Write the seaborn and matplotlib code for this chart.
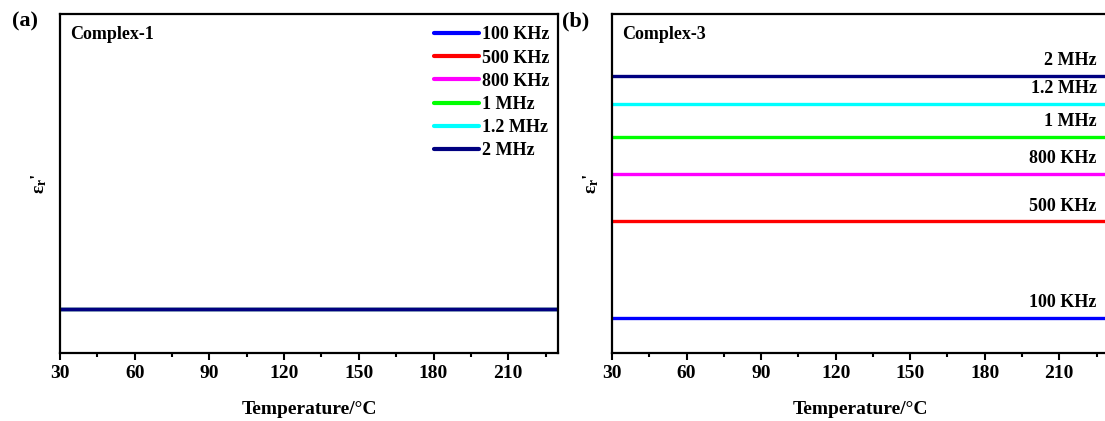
import matplotlib
matplotlib.use("Agg")
import matplotlib.pyplot as plt
from matplotlib.ticker import MultipleLocator
import seaborn as sns
import pandas as pd

# ---- data ----
temperature = [30, 60, 90, 120, 150, 180, 210, 230]
freq_labels = ["100 KHz", "500 KHz", "800 KHz", "1 MHz", "1.2 MHz", "2 MHz"]
colors = ["#0000FF", "#FF0000", "#FF00FF", "#00FF00", "#00FFFF", "#000080"]

# Complex-1 (all curves overlap)
c1_100k = [1.29] * 8
c1_500k = [1.29] * 8
c1_800k = [1.29] * 8
c1_1m = [1.29] * 8
c1_12m = [1.29] * 8
c1_2m = [1.29] * 8

# Complex-3
c3_100k = [1.04] * 8
c3_500k = [3.88] * 8
c3_800k = [5.27] * 8
c3_1m = [6.36] * 8
c3_12m = [7.34] * 8
c3_2m = [8.17] * 8

x_ticks = [30, 60, 90, 120, 150, 180, 210]


def build(series):
    rows = []
    for lab, vals in zip(freq_labels, series):
        for t, v in zip(temperature, vals):
            rows.append({"Temperature": t, "eps": v, "freq": lab})
    return pd.DataFrame(rows)


df1 = build([c1_100k, c1_500k, c1_800k, c1_1m, c1_12m, c1_2m])
df3 = build([c3_100k, c3_500k, c3_800k, c3_1m, c3_12m, c3_2m])

sns.set_theme(style="white")
plt.rcParams["font.family"] = ["Liberation Serif", "DejaVu Serif"]
plt.rcParams["font.weight"] = "bold"
plt.rcParams["text.color"] = "black"
plt.rcParams["axes.labelcolor"] = "black"
plt.rcParams["xtick.color"] = "black"
plt.rcParams["ytick.color"] = "black"
plt.rcParams["mathtext.fontset"] = "custom"
plt.rcParams["mathtext.rm"] = "Liberation Serif:bold"
plt.rcParams["mathtext.it"] = "Liberation Serif:bold"
plt.rcParams["mathtext.bf"] = "Liberation Serif:bold"

fig = plt.figure(figsize=(11.05, 4.21), dpi=100)
W, H = 1105, 421
ax1 = fig.add_axes([60 / W, (H - 353) / H, 498 / W, 339 / H])
ax2 = fig.add_axes([612 / W, (H - 353) / H, 497 / W, 339 / H])

palette = dict(zip(freq_labels, colors))

for ax, df in [(ax1, df1), (ax2, df3)]:
    sns.lineplot(data=df, x="Temperature", y="eps", hue="freq", hue_order=freq_labels,
                 palette=palette, linewidth=2.4, ax=ax, legend=(ax is ax1))
    ax.set_xlim(30, 230)
    ax.set_ylim(0, 10)
    ax.set_yticks([])
    ax.set_xticks(x_ticks)
    ax.xaxis.set_minor_locator(MultipleLocator(15))
    ax.tick_params(axis="x", which="major", direction="out", length=5, width=1.5,
                   labelsize=14, pad=4, bottom=True)
    ax.tick_params(axis="x", which="minor", direction="out", length=3, width=1.5, bottom=True)
    for lab in ax.get_xticklabels():
        lab.set_fontweight("bold")
    for s in ax.spines.values():
        s.set_linewidth(1.6)
        s.set_color("black")
    ax.set_xlabel("Temperature/\u00b0C", fontsize=14, fontweight="bold", labelpad=13)
    ax.set_ylabel(r"$\mathbf{\varepsilon_r}$'", fontsize=14, fontweight="bold", labelpad=8)

ax2.spines["right"].set_visible(False)

ax1.text(0.02, 0.965, "Complex-1", transform=ax1.transAxes, ha="left", va="top",
         fontsize=13, fontweight="bold")
ax2.text(0.02, 0.965, "Complex-3", transform=ax2.transAxes, ha="left", va="top",
         fontsize=13, fontweight="bold")

leg = ax1.legend(loc="upper right", bbox_to_anchor=(1.0, 0.99), frameon=False, fontsize=13,
                 handlelength=2.5, handletextpad=0.12, labelspacing=0.34, borderaxespad=0.1)
for t in leg.get_texts():
    t.set_fontweight("bold")
for l in leg.get_lines():
    l.set_linewidth(3)

# direct labels for Complex-3
for lab, vals in zip(freq_labels, [c3_100k, c3_500k, c3_800k, c3_1m, c3_12m, c3_2m]):
    ax2.annotate(lab, xy=(temperature[-1] - 5, vals[-1]), xytext=(0, 5),
                 textcoords="offset points", ha="right", va="bottom",
                 fontsize=13, fontweight="bold")

fig.text(25 / W, 1 - 21 / H, "(a)", fontsize=16, fontweight="bold", ha="center", va="center")
fig.text(576 / W, 1 - 21 / H, "(b)", fontsize=16, fontweight="bold", ha="center", va="center")

fig.savefig("out.png", dpi=100)
